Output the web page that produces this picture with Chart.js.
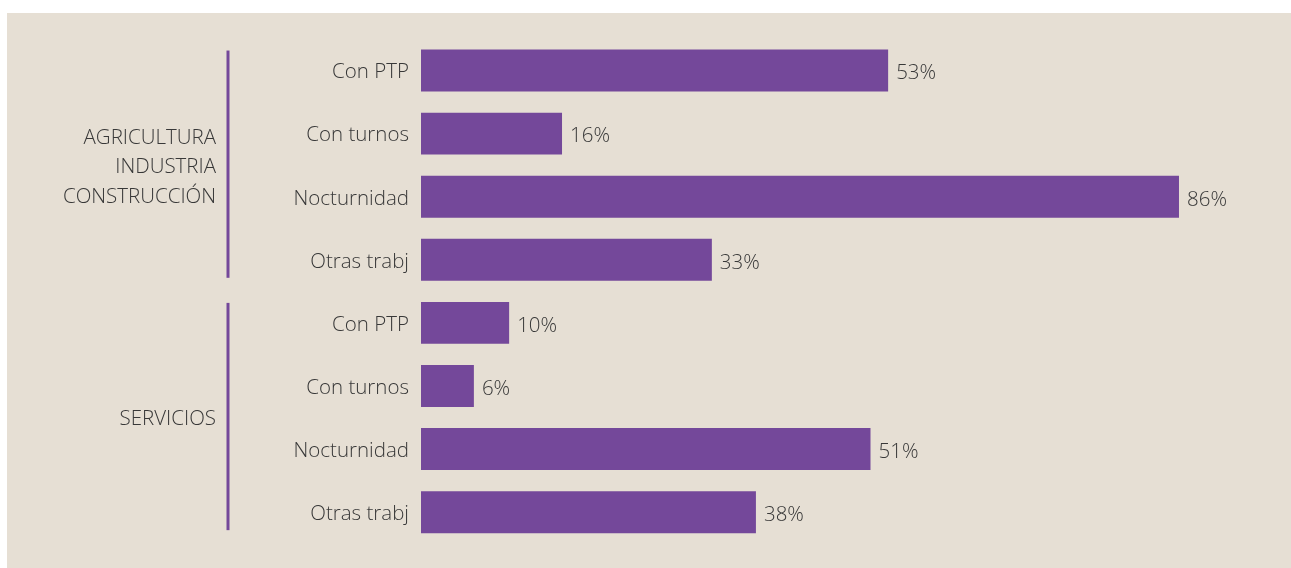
<!DOCTYPE html>
<html>
<head>
<meta charset="utf-8">
<script src="https://cdn.jsdelivr.net/npm/chart.js@4/dist/chart.umd.min.js"></script>
<style>
  html, body { margin: 0; padding: 0; background: #ffffff; }
  #wrap { width: 1291px; height: 568px; }
</style>
</head>
<body>
<div id="wrap"><canvas id="chart" width="1291" height="568"></canvas></div>
<script>
// Filas del gráfico (dos bloques de cuatro)
const categorias = ['Con PTP', 'Con turnos', 'Nocturnidad', 'Otras trabj',
                    'Con PTP', 'Con turnos', 'Nocturnidad', 'Otras trabj'];
const porcentajes = [53, 16, 86, 33, 10, 6, 51, 38];

// Bloques: texto y rango de filas
const grupos = [
    { lineas: ['AGRICULTURA', 'INDUSTRIA', 'CONSTRUCCIÓN'], desde: 0, hasta: 3 },
    { lineas: ['SERVICIOS'], desde: 4, hasta: 7 }
];

const morado = '#74489a';
const fondo = '#e6dfd4';
const texto = '#383838';
const fuente = '"Open Sans", "DejaVu Sans", sans-serif';
const tam = 20.5;

// Fondo beige
const fondoPlugin = {
    id: 'fondo',
    beforeDraw(chart) {
        const ctx = chart.ctx;
        ctx.save();
        ctx.fillStyle = fondo;
        ctx.fillRect(7, 13, chart.width - 7, chart.height - 13);
        ctx.restore();
    }
};

// Etiquetas con el valor al final de cada barra
const valoresPlugin = {
    id: 'valores',
    afterDatasetsDraw(chart) {
        const ctx = chart.ctx;
        const meta = chart.getDatasetMeta(0);
        ctx.save();
        ctx.font = '300 ' + tam + 'px ' + fuente;
        ctx.fillStyle = texto;
        ctx.textAlign = 'left';
        ctx.textBaseline = 'middle';
        meta.data.forEach((bar, i) => {
            ctx.fillText(porcentajes[i] + '%', bar.x + 8, bar.y + 3);
        });
        ctx.restore();
    }
};

// Nombre de cada bloque con su línea vertical
const gruposPlugin = {
    id: 'grupos',
    afterDraw(chart) {
        const ctx = chart.ctx;
        const y = chart.scales.y;
        ctx.save();
        grupos.forEach(g => {
            const y0 = y.getPixelForValue(g.desde);
            const y1 = y.getPixelForValue(g.hasta);
            ctx.strokeStyle = morado;
            ctx.lineWidth = 3;
            ctx.beginPath();
            ctx.moveTo(228, y0 - 20);
            ctx.lineTo(228, y1 + 18);
            ctx.stroke();

            const medio = (y0 + y1) / 2;
            const alto = 29.5;
            ctx.font = '300 ' + tam + 'px ' + fuente;
            ctx.fillStyle = texto;
            ctx.textAlign = 'right';
            ctx.textBaseline = 'middle';
            g.lineas.forEach((l, k) => {
                const ly = medio + (k - (g.lineas.length - 1) / 2) * alto + 2;
                ctx.fillText(l, 216, ly);
            });
        });
        ctx.restore();
    }
};

new Chart(document.getElementById('chart'), {
    type: 'bar',
    data: {
        labels: categorias,
        datasets: [{
            data: porcentajes,
            backgroundColor: morado,
            borderWidth: 0,
            barPercentage: 0.665,
            categoryPercentage: 1
        }]
    },
    options: {
        indexAxis: 'y',
        responsive: false,
        animation: false,
        layout: { padding: { top: 39, bottom: 22, left: 0, right: 41.5 } },
        plugins: {
            legend: { display: false },
            tooltip: { enabled: false }
        },
        scales: {
            x: {
                display: false,
                min: 0,
                max: 94
            },
            y: {
                grid: { display: false, drawTicks: false },
                border: { display: false },
                afterFit(axis) { axis.width = 421; },
                ticks: {
                    padding: 12,
                    color: texto,
                    labelOffset: 2,
                    font: { family: fuente, size: tam, weight: '300' }
                }
            }
        }
    },
    plugins: [fondoPlugin, valoresPlugin, gruposPlugin]
});
</script>
</body>
</html>
